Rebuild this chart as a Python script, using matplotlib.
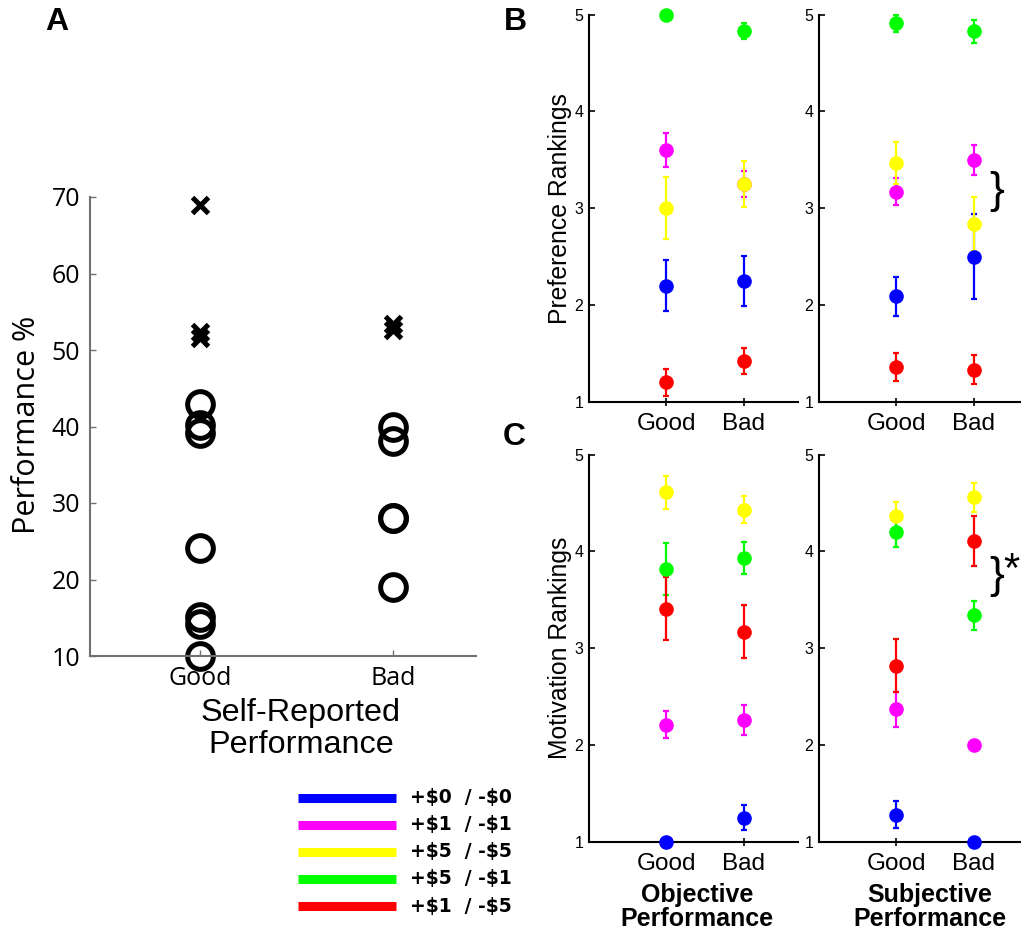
import matplotlib
matplotlib.use('Agg')
import matplotlib.pyplot as plt

W, H = 1021, 934

# panel A: individual performance, split by self report
groups = ['Good', 'Bad']
good_x = [68.9, 52.4, 51.6]
good_o = [43.0, 40.2, 39.1, 24.1, 15.1, 14.2, 10.0]
bad_x = [53.4, 52.6]
bad_o = [40.0, 38.1, 28.0, 28.0, 19.0]

# reward / punishment conditions
conds = ['+$0  / -$0', '+$1  / -$1', '+$5  / -$5', '+$5  / -$1', '+$1  / -$5']
colors = ['#0000ff', '#ff00ff', '#ffff00', '#00ff00', '#ff0000']

# means and s.e.m., one row per condition, columns Good / Bad
pref_obj_mean = [[2.20, 2.25], [3.60, 3.25], [3.00, 3.25], [5.00, 4.83], [1.20, 1.42]]
pref_obj_err = [[0.265, 0.26], [0.175, 0.13], [0.32, 0.235], [0.0, 0.08], [0.14, 0.135]]
pref_subj_mean = [[2.09, 2.50], [3.17, 3.50], [3.47, 2.84], [4.91, 4.83], [1.36, 1.33]]
pref_subj_err = [[0.20, 0.44], [0.14, 0.155], [0.215, 0.28], [0.09, 0.12], [0.146, 0.15]]
mot_obj_mean = [[1.00, 1.25], [2.21, 2.26], [4.61, 4.43], [3.82, 3.93], [3.41, 3.17]]
mot_obj_err = [[0.0, 0.13], [0.14, 0.155], [0.175, 0.14], [0.27, 0.165], [0.33, 0.275]]
mot_subj_mean = [[1.28, 1.00], [2.37, 2.00], [4.37, 4.56], [4.20, 3.34], [2.82, 4.11]]
mot_subj_err = [[0.14, 0.0], [0.18, 0.0], [0.145, 0.15], [0.155, 0.153], [0.27, 0.26]]

plt.rcParams['font.family'] = ['Liberation Sans', 'DejaVu Sans']


def box(x0, y0, x1, y1):
    return [x0 / W, 1 - y1 / H, (x1 - x0) / W, (y1 - y0) / H]


fig = plt.figure(figsize=(W / 100, H / 100), dpi=100)

# ---- A
axA = fig.add_axes(box(90, 197, 476, 656))
xs = [1, 2]
axA.plot([xs[0]] * len(good_o), good_o, 'o', mfc='none', mec='k', ms=18.5, mew=3.6, clip_on=False)
axA.plot([xs[1]] * len(bad_o), bad_o, 'o', mfc='none', mec='k', ms=18.5, mew=3.6, clip_on=False)
axA.plot([xs[0]] * len(good_x), good_x, 'x', mec='k', ms=12, mew=3.6, clip_on=False)
axA.plot([xs[1]] * len(bad_x), bad_x, 'x', mec='k', ms=12, mew=3.6, clip_on=False)
axA.set_xlim(0.43, 2.43)
axA.set_ylim(10, 70)
axA.set_yticks(range(10, 71, 10))
axA.set_xticks(xs)
axA.set_xticklabels(groups)
for s in ['top', 'right']:
    axA.spines[s].set_visible(False)
for s in ['left', 'bottom']:
    axA.spines[s].set_color('#707070')
    axA.spines[s].set_linewidth(1.5)
axA.tick_params(direction='in', length=4, width=1, color='#707070', pad=7)
for lab in axA.get_xticklabels() + axA.get_yticklabels():
    lab.set_family('Open Sans')
    lab.set_fontsize(18)
fig.text(27 / W, 1 - 425 / H, 'Performance %', rotation=90, ha='center', va='center',
         fontsize=22, family='Open Sans')
fig.text(301 / W, 1 - 729 / H, 'Self-Reported\nPerformance', ha='center', va='center',
         fontsize=23.3, linespacing=1.1)


# ---- B / C
def rank_panel(rect, means, errs):
    ax = fig.add_axes(rect)
    for m, e, c in zip(means, errs, colors):
        ax.errorbar(xs, m, yerr=e, fmt='o', color=c, mec=c, ms=9.5, elinewidth=1.6,
                    capsize=2.5, capthick=1.6, clip_on=False, zorder=3)
    ax.set_xlim(0, 2.7)
    ax.set_ylim(1, 5)
    ax.set_yticks([1, 2, 3, 4, 5])
    ax.set_xticks(xs)
    ax.set_xticklabels(groups, fontsize=17.5)
    ax.tick_params(axis='y', labelsize=11.5, direction='in', length=4, width=1.2, pad=4)
    ax.tick_params(axis='x', direction='inout', length=6, width=1.2, pad=5)
    for s in ['top', 'right']:
        ax.spines[s].set_visible(False)
    for s in ['left', 'bottom']:
        ax.spines[s].set_linewidth(1.5)
    return ax


axB1 = rank_panel(box(589, 14.7, 798, 401.7), pref_obj_mean, pref_obj_err)
axB2 = rank_panel(box(819, 14.7, 1028, 401.7), pref_subj_mean, pref_subj_err)
axC1 = rank_panel(box(589, 454.7, 798, 841.7), mot_obj_mean, mot_obj_err)
axC2 = rank_panel(box(819, 454.7, 1028, 841.7), mot_subj_mean, mot_subj_err)

axB1.set_ylabel('Preference Rankings', fontsize=17.8)
axB1.yaxis.set_label_coords(-0.08, 0.5)
axC1.set_ylabel('Motivation Rankings', fontsize=17.8)
axC1.yaxis.set_label_coords(-0.08, 0.5)

fig.text(697 / W, 1 - 907 / H, 'Objective\nPerformance', ha='center', va='center',
         fontsize=18, fontweight='bold', linespacing=1.05)
fig.text(930 / W, 1 - 907 / H, 'Subjective\nPerformance', ha='center', va='center',
         fontsize=18, fontweight='bold', linespacing=1.05)

# brackets
axB2.text(2.30, 3.17, '}', fontsize=32, ha='center', va='center', clip_on=False)
axC2.text(2.30, 3.74, '}', fontsize=32, ha='center', va='center', clip_on=False)
axC2.text(2.49, 3.80, '*', fontsize=30, ha='center', va='center', clip_on=False)

# panel letters
for lab, (px, py) in zip('ABC', [(57, 22), (515, 22), (514, 437)]):
    fig.text(px / W, 1 - py / H, lab, fontsize=23, fontweight='bold', ha='center', va='center')

# legend
axL = fig.add_axes(box(280, 784.15, 540, 919.55))
axL.set_xlim(280, 540)
axL.set_ylim(len(conds) - 0.5, -0.5)
axL.axis('off')
for i, (lab, c) in enumerate(zip(conds, colors)):
    axL.plot([298, 396], [i, i], color=c, lw=6.5, solid_capstyle='butt')
    axL.text(410, i, lab, fontsize=13.5, fontweight='bold', family='DejaVu Sans',
             va='center', ha='left', parse_math=False)

fig.savefig('out.png', dpi=100)
